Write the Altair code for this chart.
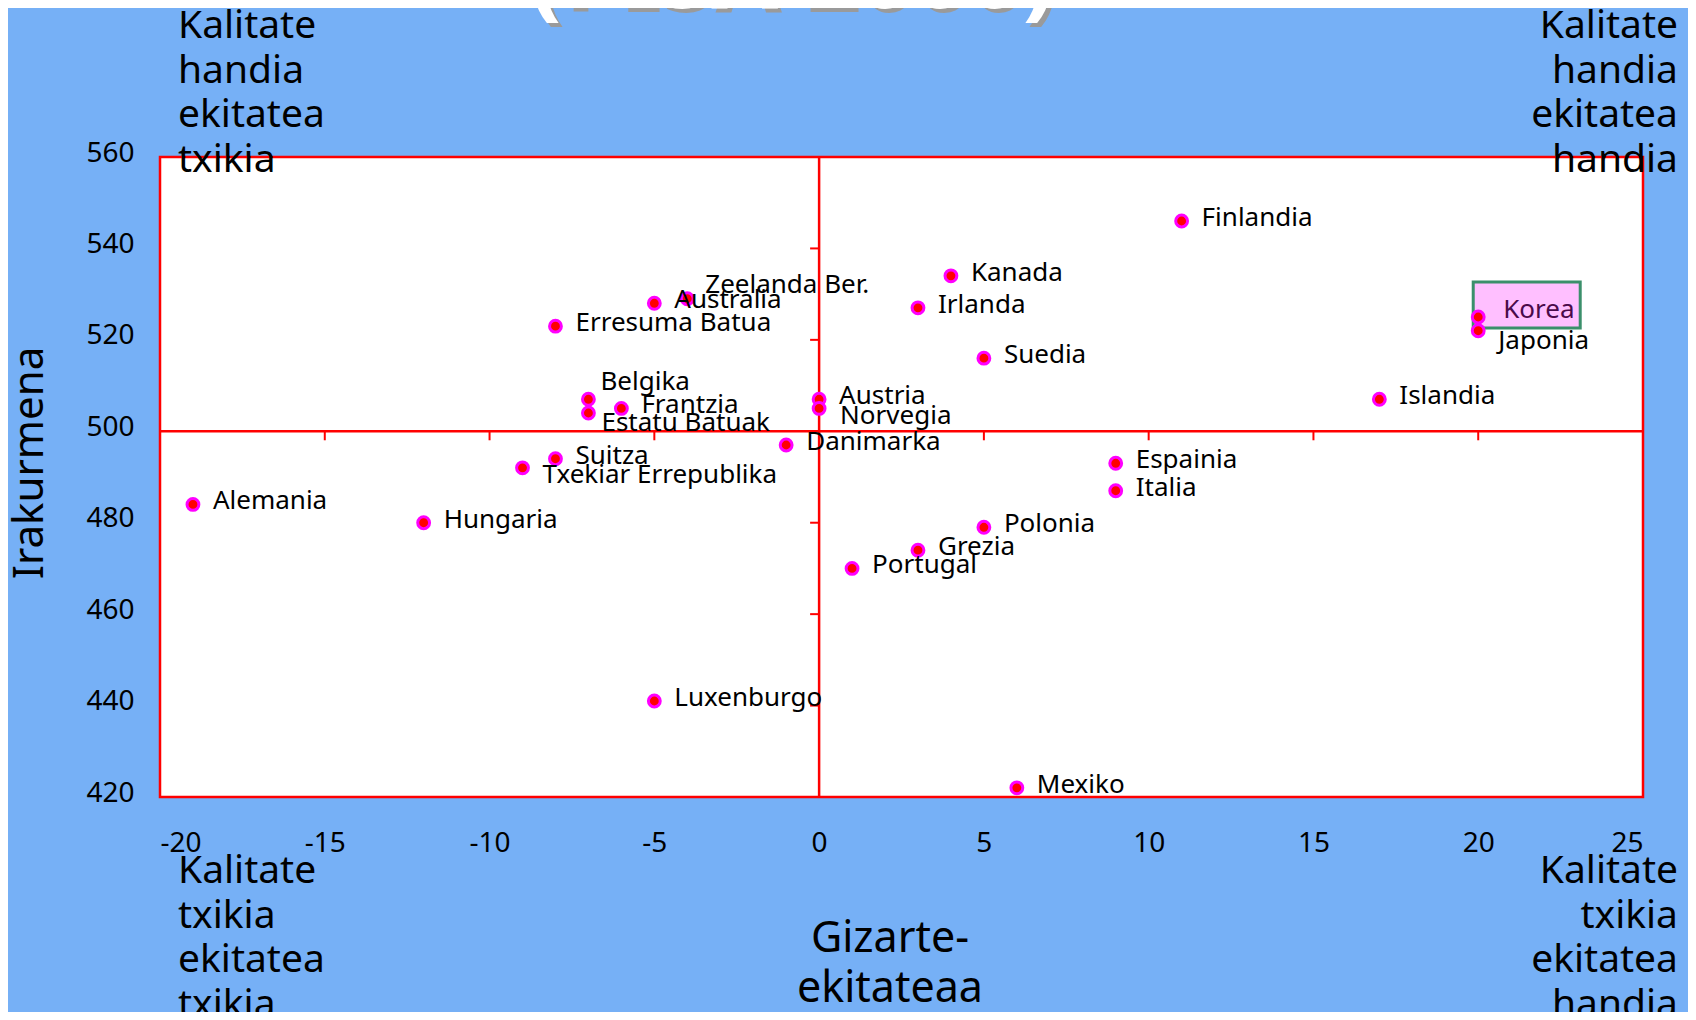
import altair as alt
import pandas as pd

# ---- data (PISA 2000) ----
countries = ["Finlandia", "Kanada", "Irlanda", "Suedia", "Korea", "Japonia", "Islandia",
             "Zeelanda Ber.", "Australia", "Erresuma Batua", "Belgika", "Estatu Batuak",
             "Frantzia", "Austria", "Norvegia", "Danimarka", "Suitza", "Txekiar Errepublika",
             "Alemania", "Hungaria", "Espainia", "Italia", "Polonia", "Grezia", "Portugal",
             "Luxenburgo", "Mexiko"]
equity = [11, 4, 3, 5, 20, 20, 17, -4, -5, -8, -7, -7, -6, 0, 0, -1, -8, -9, -19, -12,
          9, 9, 5, 3, 1, -5, 6]
reading = [546, 534, 527, 516, 525, 522, 507, 529, 528, 523, 507, 504, 505, 507, 505, 497,
           494, 492, 484, 480, 493, 487, 479, 474, 470, 441, 422]

x_ticks = [-20, -15, -10, -5, 0, 5, 10, 15, 20, 25]
y_ticks = [420, 440, 460, 480, 500, 520, 540, 560]
x_inner_ticks = [-15, -10, -5, 5, 10, 15, 20]
y_inner_ticks = [440, 460, 480, 520, 540]
highlight = "Korea"

# label nudges (layout only)
default_nudge = (20, -3)
nudges = {
    "Zeelanda Ber.": (18, -14),
    "Belgika": (12, -17),
    "Estatu Batuak": (13, 10),
    "Norvegia": (21, 8),
    "Txekiar Errepublika": (20, 7),
    "Japonia": (20, 10),
    "Korea": (25, -7),
}

df = pd.DataFrame({"country": countries, "equity": equity, "reading": reading})
one = pd.DataFrame({"a": [0]})

FONT = "Noto Sans"
RED = "#ff0000"

xscale = alt.Scale(domain=[-20, 25], nice=False, zero=False)
yscale = alt.Scale(domain=[420, 560], nice=False, zero=False)

X = alt.X("equity:Q", scale=xscale, title=None,
          axis=alt.Axis(values=x_ticks, labelPadding=32, labelFontSize=28,
                        labelExpr="'' + datum.value"))
Y = alt.Y("reading:Q", scale=yscale, title=None,
          axis=alt.Axis(values=y_ticks, labelPadding=26, labelFontSize=28,
                        labelOffset=-4, labelExpr="'' + datum.value"))

# Korea highlight box
box = alt.Chart(df).transform_filter(alt.datum.country == highlight).mark_rect(
    fill="#ffbfff", stroke="#3b8f6b", strokeWidth=3,
    xOffset=-5, x2Offset=102, yOffset=11, y2Offset=-35
).encode(x=X, x2="equity:Q", y=Y, y2="reading:Q")

# cross lines through (0, 500)
vline = alt.Chart(one).mark_rule(color=RED, strokeWidth=2.5).encode(x=alt.datum(0))
hline = alt.Chart(one).mark_rule(color=RED, strokeWidth=2.5).encode(y=alt.datum(500))

xt = alt.Chart(pd.DataFrame({"t": x_inner_ticks})).mark_rule(
    color=RED, strokeWidth=2, y2Offset=9
).encode(x=alt.X("t:Q", scale=xscale), y=alt.datum(500), y2=alt.datum(500))

yt = alt.Chart(pd.DataFrame({"t": y_inner_ticks})).mark_rule(
    color=RED, strokeWidth=2, x2Offset=-9
).encode(y=alt.Y("t:Q", scale=yscale), x=alt.datum(0), x2=alt.datum(0))

points = alt.Chart(df).mark_point(
    filled=False, fill=RED, fillOpacity=1, stroke="#ff00ff", strokeWidth=3,
    size=140, shape="circle", opacity=1
).encode(x=X, y=Y)

# labels grouped by nudge
label_layers = []
groups = {}
for c in countries:
    groups.setdefault(nudges.get(c, default_nudge), []).append(c)
for (dx, dy), names in groups.items():
    color = "#4a0a4a" if names == [highlight] else "black"
    label_layers.append(
        alt.Chart(df).transform_filter(alt.FieldOneOfPredicate(field="country", oneOf=names))
        .mark_text(align="left", baseline="middle", dx=dx, dy=dy, font=FONT,
                   fontSize=26, color=color)
        .encode(x=X, y=Y, text="country:N")
    )


def note(text, x, y, align="left", size=39, lh=44.7, baseline="alphabetic", **kw):
    return alt.Chart(one).mark_text(
        align=align, baseline=baseline, font=FONT, fontSize=size, lineBreak="\n",
        lineHeight=lh, color=kw.pop("color", "black"), **kw
    ).encode(x=alt.value(x), y=alt.value(y), text=alt.value(text))


notes = [
    note("(PISA 2000)", 636, -145, align="center", size=96, fontWeight="bold", color="#9a9a9a"),
    note("(PISA 2000)", 632, -149, align="center", size=96, fontWeight="bold", color="white"),
    note("Kalitate\nhandia\nekitatea\ntxikia", 18, -119),
    note("Kalitate\nhandia\nekitatea\nhandia", 1518, -119, align="right"),
    note("Kalitate\ntxikia\nekitatea\ntxikia", 18, 726),
    note("Kalitate\ntxikia\nekitatea\nhandia", 1518, 726, align="right"),
    note("Gizarte-\nekitateaa", 730, 795, align="center", size=43, lh=50),
    note("Irakurmena", -130, 306, align="center", size=42, baseline="middle", angle=270),
]

chart = alt.layer(box, vline, hline, xt, yt, points, *label_layers, *notes).properties(
    width=1483, height=640,
    autosize="none",
    padding={"left": 152, "top": 149, "right": 45, "bottom": 215},
    background="#76b0f6",
).configure_view(
    fill="white", stroke=RED, strokeWidth=2.5
).configure_axis(
    domain=False, ticks=False, grid=False, labelFont=FONT, labelColor="black"
)

chart.save("out.html", embed_options={"renderer": "svg", "actions": False})
